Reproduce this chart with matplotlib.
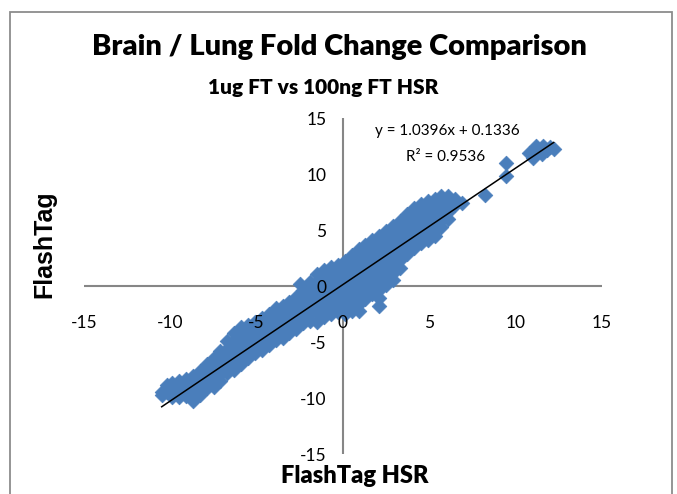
import matplotlib
matplotlib.use('Agg')
from matplotlib import pyplot as plt
from matplotlib.patches import Rectangle

plt.rcParams['font.family'] = ['Lato', 'DejaVu Sans']
plt.rcParams['axes.unicode_minus'] = False

# columns of points: x position, y values in that column
col_x = [-10.5, -10.2, -9.9, -9.5, -9.1, -8.7, -8.3, -7.9, -7.5, -7.1,
         -6.7, -6.3, -5.9, -5.5, -5.1, -4.7, -4.3, -3.9, -3.5, -3.1,
         -2.7, -2.5, -2.3, -1.9, -1.5, -1.1, -0.7, -0.3, 0.1, 0.5,
         0.9, 1.3, 1.7, 2.1, 2.5, 2.9, 3.3, 3.7, 4.1, 4.5,
         4.9, 5.3, 5.7, 6.1, 6.5, 6.9, 8.2, 9.45]
col_y = [
    [-9.5, -9.7],
    [-8.8, -9.5],
    [-8.7, -9.3, -9.9],
    [-8.5, -9.2, -9.9],
    [-8.3, -9.0, -9.8],
    [-8.0, -8.7, -9.5, -10.3],
    [-7.6, -8.3, -9.0, -9.7],
    [-7.0, -7.7, -8.4, -9.1],
    [-6.4, -7.1, -7.8, -8.6, -9.0],
    [-5.8, -6.5, -7.2, -7.9, -8.5],
    [-4.9, -5.6, -6.3, -7.0, -7.8],
    [-4.2, -4.9, -5.6, -6.3, -7.0, -7.5],
    [-3.7, -4.4, -5.1, -5.8, -6.5, -7.0],
    [-3.5, -4.2, -4.9, -5.6, -6.4],
    [-3.2, -3.9, -4.6, -5.3, -6.0],
    [-2.9, -3.6, -4.3, -5.0, -5.7],
    [-2.5, -3.2, -3.9, -4.6, -5.3],
    [-2.0, -2.7, -3.4, -4.1, -4.8],
    [-1.8, -2.5, -3.2, -3.9, -4.6],
    [-1.4, -2.1, -2.8, -3.5, -4.2],
    [-1.0, -1.7, -2.4, -3.1, -3.8],
    [0.2],
    [-0.4, -1.1, -1.8, -2.5, -3.3],
    [0.4, -0.3, -1.0, -1.7, -2.4, -3.1],
    [1.1, 0.4, -0.3, -1.0, -1.7, -2.4, -3.2],
    [1.4, 0.7, 0.0, -0.7, -1.4, -2.1, -2.8],
    [1.7, 1.0, 0.3, -0.4, -1.1, -1.8, -2.5],
    [1.9, 1.2, 0.5, -0.2, -0.9, -1.6, -2.3],
    [2.2, 1.5, 0.8, 0.1, -0.6, -1.3, -2.0, -2.5],
    [2.8, 2.1, 1.4, 0.7, 0.0, -0.7, -1.4, -2.2],
    [3.3, 2.6, 1.9, 1.2, 0.5, -0.2, -0.9, -1.6, -2.2],
    [3.7, 3.0, 2.3, 1.6, 0.9, 0.2, -0.5, -1.2],
    [4.1, 3.4, 2.7, 2.0, 1.3, 0.6, -0.1, -0.7],
    [4.5, 3.8, 3.1, 2.4, 1.7, 1.0, 0.3, -0.4, -1.1, -1.8],
    [4.9, 4.2, 3.5, 2.8, 2.1, 1.4, 0.7, 0.1],
    [5.4, 4.7, 4.0, 3.3, 2.6, 1.9, 1.2, 0.5],
    [5.8, 5.1, 4.4, 3.7, 3.0, 2.3, 1.6],
    [6.4, 5.7, 5.0, 4.3, 3.6, 2.9],
    [7.0, 6.3, 5.6, 4.9, 4.2, 3.4],
    [7.3, 6.6, 5.9, 5.2, 4.5, 3.8],
    [7.6, 6.9, 6.2, 5.5, 4.8, 4.1],
    [7.8, 7.1, 6.4, 5.7, 5.0, 4.5],
    [8.0, 7.3, 6.6, 5.9, 5.3],
    [8.0, 7.3, 6.6, 6.0],
    [7.8, 7.2],
    [7.4],
    [8.1],
    [11.0, 9.85],
]
# top right cluster
cluster_x = [10.8, 11.0, 11.2, 11.5, 11.6, 12.0, 12.2, 11.8]
cluster_y = [11.9, 11.4, 12.5, 11.8, 12.5, 12.4, 12.2, 12.1]

slope = 1.0396
intercept = 0.1336
r2 = 0.9536
ticks = [-15, -10, -5, 0, 5, 10, 15]

xs = []
ys = []
for x, col in zip(col_x, col_y):
    for y in col:
        xs.append(x)
        ys.append(y)
xs += cluster_x
ys += cluster_y

W, H = 677, 494
fig = plt.figure(figsize=(W / 100, H / 100), dpi=100)
ax = fig.add_axes([84 / W, 1 - 454 / H, 518 / W, 336 / H])

# chart frame
fig.patches.append(Rectangle((10 / W, -0.05), 662 / W, 1.05 - 12 / H, transform=fig.transFigure,
                             fill=False, edgecolor='#8c8c8c', linewidth=1.3))

ax.axhline(0, color='#868686', linewidth=1.5, zorder=0.5)
ax.axvline(0, color='#868686', linewidth=1.5, zorder=0.5)

ax.scatter(xs, ys, marker='D', s=56, color='#4a7ebb', edgecolors='#4a7ebb', linewidths=0.5, zorder=1)

lx = [min(xs), max(xs)]
ly = [slope * v + intercept for v in lx]
ax.plot(lx, ly, color='black', linewidth=1.1, zorder=2)

ax.set_xlim(-15, 15)
ax.set_ylim(-15, 15)
for s in ax.spines.values():
    s.set_visible(False)
ax.spines['bottom'].set_position(('data', 0))
ax.spines['left'].set_position(('data', 0))
ax.set_xticks(ticks)
ax.set_yticks(ticks)
ax.tick_params(axis='x', length=0, pad=21, labelsize=12.5)
ax.tick_params(axis='y', length=0, pad=12, labelsize=12.5)
ax.patch.set_visible(False)

fig.text(339 / W, 1 - 47 / H, 'Brain / Lung Fold Change Comparison', ha='center', va='center',
         fontsize=21, fontweight='heavy')
fig.text(323 / W, 1 - 87 / H, '1ug FT vs 100ng FT HSR', ha='center', va='center',
         fontsize=15, fontweight='heavy')
fig.text(44 / W, 1 - 244 / H, 'FlashTag', ha='center', va='center', rotation=90,
         fontsize=18, fontweight='bold', family=['Liberation Sans', 'DejaVu Sans'])
fig.text(355 / W, 1 - 476 / H, 'FlashTag HSR', ha='center', va='center',
         fontsize=17, fontweight='heavy')

fig.text(447 / W, 1 - 131 / H, f'y = {slope}x + {intercept}', ha='center', va='center', fontsize=11)
fig.text(446 / W, 1 - 157 / H, f'R\u00b2 = {r2}', ha='center', va='center', fontsize=11)

fig.savefig('out.png', dpi=100)
